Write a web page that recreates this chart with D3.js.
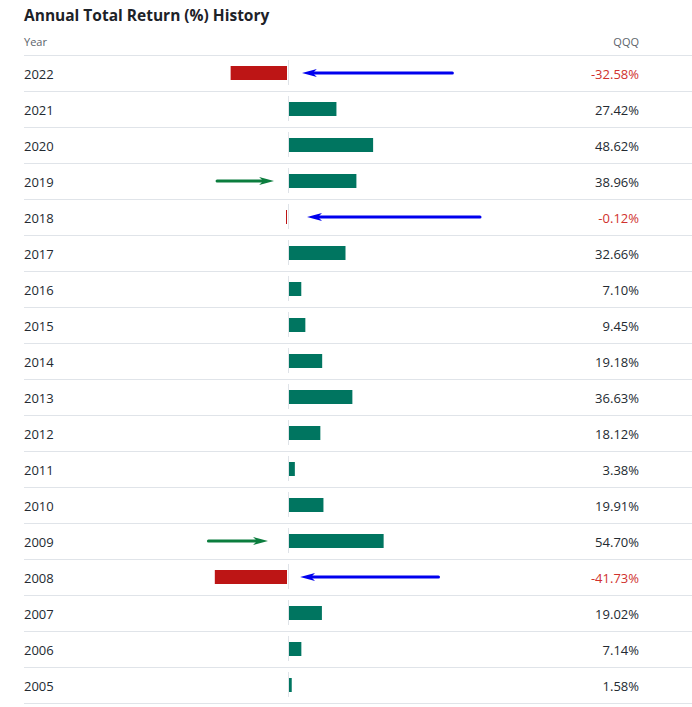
<!DOCTYPE html>
<meta charset="utf-8">
<head>
    <script src="https://d3js.org/d3.v7.min.js"></script>
    <style>
        body { margin: 0; background: #fff; font-family: "Open Sans", "Noto Sans", sans-serif; }
    </style>
</head>
<body>
    <div id="chart"></div>
    <script>
        // chart data
        var years = ["2022", "2021", "2020", "2019", "2018", "2017", "2016", "2015", "2014",
                     "2013", "2012", "2011", "2010", "2009", "2008", "2007", "2006", "2005"];
        var returns = [-32.58, 27.42, 48.62, 38.96, -0.12, 32.66, 7.10, 9.45, 19.18,
                       36.63, 18.12, 3.38, 19.91, 54.70, -41.73, 19.02, 7.14, 1.58];
        var title = "Annual Total Return (%) History";
        var colHeaders = ["Year", "QQQ"];

        // annotation arrows, in % units along the bar axis (to = where the tip lands)
        var blueArrows = [{year: "2022", from: 95, to: 8}, {year: "2018", from: 111, to: 11}, {year: "2008", from: 87, to: 7}];
        var greenArrows = [{year: "2019", from: -41, to: -8}, {year: "2009", from: -46, to: -11.5}];

        var width = 692, height = 707;
        var left = 24, valueRight = 639;
        var headerLine = 55, rowH = 36;

        var svg = d3.select("#chart").append("svg")
            .attr("width", width)
            .attr("height", height);

        var x = d3.scaleLinear().domain([-100, 100]).range([115, 461]);
        var y = d3.scaleBand().domain(years).range([headerLine, headerLine + rowH * years.length]);

        // arrow heads: 15px long, 8px tall, tip 12px past the line end
        var defs = svg.append("defs");
        [["blueHead", "#0000ee"], ["greenHead", "#0b7d3e"]].forEach(function(m) {
            defs.append("marker")
                .attr("id", m[0])
                .attr("viewBox", "0 0 15 8")
                .attr("refX", 3).attr("refY", 4)
                .attr("markerWidth", 15).attr("markerHeight", 8)
                .attr("markerUnits", "userSpaceOnUse")
                .attr("orient", "auto")
                .append("path")
                .attr("d", "M15,4 L0,0 L4,4 L0,8 Z")
                .attr("fill", m[1]);
        });

        // title + header
        svg.append("text")
            .attr("x", left).attr("y", 21)
            .attr("font-size", 15.5).attr("font-weight", 700)
            .attr("fill", "#1d2228")
            .text(title);
        svg.append("text")
            .attr("x", left).attr("y", 46)
            .attr("font-size", 11).attr("fill", "#5b636a")
            .text(colHeaders[0]);
        svg.append("text")
            .attr("x", valueRight).attr("y", 46)
            .attr("text-anchor", "end")
            .attr("font-size", 11).attr("fill", "#5b636a")
            .text(colHeaders[1]);

        // row separators
        svg.append("line")
            .attr("x1", left).attr("x2", width)
            .attr("y1", headerLine + 0.5).attr("y2", headerLine + 0.5)
            .attr("stroke", "#e0e4e9");

        var rows = svg.selectAll("g.row")
            .data(years.map(function(d, i) { return {year: d, value: returns[i]}; }))
            .enter().append("g")
            .attr("class", "row")
            .attr("transform", function(d) { return "translate(0," + y(d.year) + ")"; });

        rows.append("line")
            .attr("x1", left).attr("x2", width)
            .attr("y1", rowH + 0.5).attr("y2", rowH + 0.5)
            .attr("stroke", "#e0e4e9");

        rows.append("line")
            .attr("x1", x(0) + 0.5).attr("x2", x(0) + 0.5)
            .attr("y1", 5).attr("y2", rowH - 6)
            .attr("stroke", "#dfe3e8");

        rows.append("rect")
            .attr("x", function(d) { return d.value < 0 ? Math.min(x(d.value), x(0) - 1) - 1 : x(0) + 1; })
            .attr("y", 11)
            .attr("width", function(d) { return Math.max(1, Math.abs(x(d.value) - x(0))); })
            .attr("height", 14)
            .attr("fill", function(d) { return d.value < 0 ? "#bd1515" : "#007560"; });

        rows.append("text")
            .attr("x", left).attr("y", rowH / 2 + 1)
            .attr("dy", "0.36em")
            .attr("font-size", 13).attr("fill", "#232a31")
            .text(function(d) { return d.year; });

        rows.append("text")
            .attr("x", valueRight).attr("y", rowH / 2 + 1)
            .attr("dy", "0.36em")
            .attr("text-anchor", "end")
            .attr("font-size", 13)
            .attr("fill", function(d) { return d.value < 0 ? "#d0312d" : "#232a31"; })
            .text(function(d) { return d.value.toFixed(2) + "%"; });

        function drawArrows(list, color, marker) {
            svg.selectAll(null)
                .data(list)
                .enter().append("line")
                .attr("x1", function(d) { return x(d.from); })
                .attr("x2", function(d) { return x(d.to) + (d.to > d.from ? -12 : 12); })
                .attr("y1", function(d) { return y(d.year) + rowH / 2; })
                .attr("y2", function(d) { return y(d.year) + rowH / 2; })
                .attr("stroke", color)
                .attr("stroke-width", 3)
                .attr("stroke-linecap", "round")
                .attr("marker-end", "url(#" + marker + ")");
        }
        drawArrows(blueArrows, "#0000ee", "blueHead");
        drawArrows(greenArrows, "#0b7d3e", "greenHead");
    </script>
</body>
</html>
